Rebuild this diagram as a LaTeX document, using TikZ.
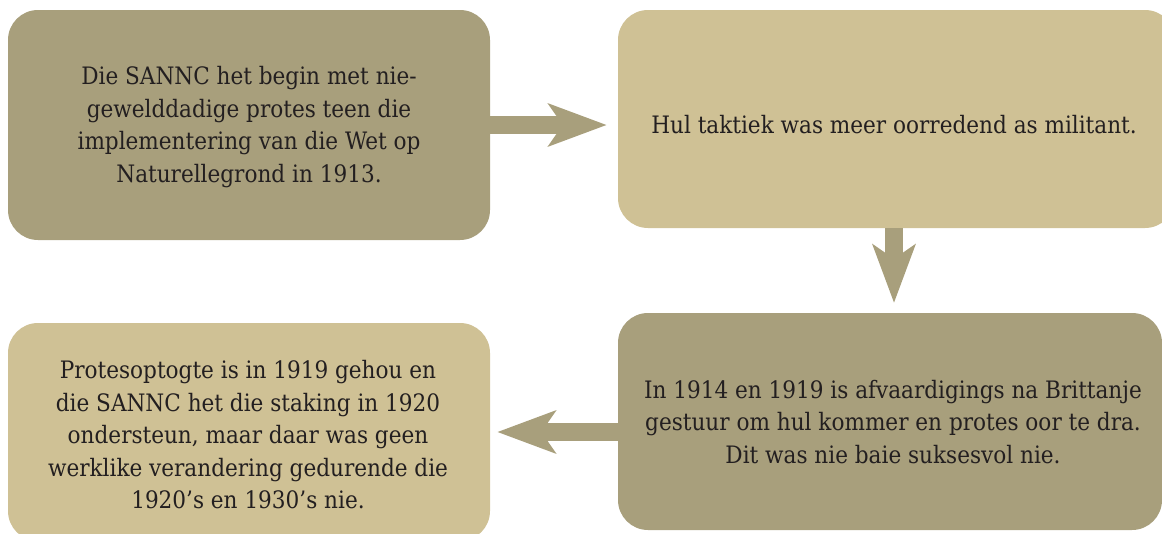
\documentclass[tikz,border=0pt]{standalone}
\usepackage{fontspec}
\setmainfont{DejaVu Serif Condensed}
\usetikzlibrary{arrows.meta, positioning, calc}
\definecolor{olivedark}{HTML}{A89F7C}
\definecolor{olivelight}{HTML}{CFC195}
\definecolor{inkdark}{HTML}{231F20}
\tikzstyle{card}  = [rectangle, rounded corners=30pt, inner sep=0pt, align=center,
                     text=inkdark, font=\fontsize{24}{32.5}\selectfont]
\tikzstyle{flow}  = [line width=18pt, draw=olivedark,
                     -{Stealth[length=58pt, width=42pt, inset=14pt]}]

\begin{document}
\begin{tikzpicture}[x=1pt, y=-1pt]
  \useasboundingbox (0,0) rectangle (1162,533);
  % the four stages
  \node (protes)       [card, fill=olivedark,  minimum width=482pt, minimum height=230pt] at (249,125) {};
  \node (taktiek)      [card, fill=olivelight, minimum width=557pt, minimum height=218pt] at (896.5,119) {};
  \node (afvaardiging) [card, fill=olivedark,  minimum width=544pt, minimum height=217pt] at (890,421.5) {};
  \node (optogte)      [card, fill=olivelight, minimum width=482pt, minimum height=218pt] at (249,432) {};

  \node (protestxt) [card] at (249,127) {Die SANNC het begin met nie-\\gewelddadige protes teen die\\implementering van die Wet op\\Naturellegrond in 1913.};
  \node (taktiektxt) [card] at (894,125) {Hul taktiek was meer oorredend as militant.};
  \node (afvtxt) [card] at (893,422) {In 1914 en 1919 is afvaardigings na Brittanje\\gestuur om hul kommer en protes oor te dra.\\Dit was nie baie suksesvol nie.};
  \node (optogtetxt) [card] at (248,435) {Protesoptogte is in 1919 gehou en\\die SANNC het die staking in 1920\\ondersteun, maar daar was geen\\werklike verandering gedurende die\\1920’s en 1930’s nie.};

  % flow between the stages
  \draw [flow, shorten >=11pt] (protes.east) -- (protes.east -| taktiek.west);
  \draw [flow, shorten >=10pt] (894,228) -- (894,313);
  \draw [flow, shorten >=7pt]  (afvaardiging.west |- optogte.east) -- (optogte.east);
\end{tikzpicture}
\end{document}
